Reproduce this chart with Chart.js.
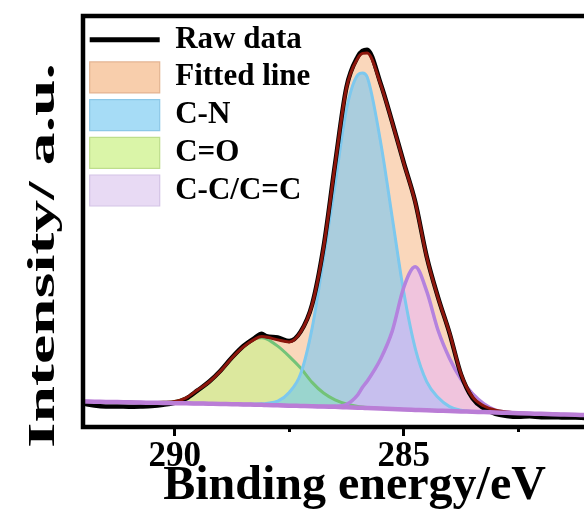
<!DOCTYPE html>
<html><head><meta charset="utf-8">
<script src="https://cdn.jsdelivr.net/npm/chart.js@4.4.1/dist/chart.umd.min.js"></script>
<style>html,body{margin:0;padding:0;background:#fff;overflow:hidden;width:584px;height:521px}canvas{display:block}</style>
</head><body>
<canvas id="c" width="626" height="521"></canvas>
<script>
// ---- data ----
const bindingEnergy = [292.00,291.75,291.50,291.25,291.00,290.75,290.50,290.25,290.00,289.75,289.50,289.25,289.00,288.75,288.50,288.25,288.10,288.00,287.75,287.50,287.25,287.00,286.75,286.50,286.25,286.00,285.90,285.80,285.50,285.25,285.00,284.75,284.50,284.25,284.00,283.75,283.50,283.25,283.00,282.75,282.50,282.25,282.00,281.75,281.50,281.25,281.00,280.50,280.00];
const rawData = [5.7,5.2,5.0,5.0,4.95,5.0,5.1,5.4,5.9,6.9,8.9,11.0,13.7,16.9,19.7,21.7,22.7,22.1,21.8,20.9,23.2,29.8,43.8,63.9,82.7,90.2,91.5,91.8,83.4,74.1,64.3,54.8,41.5,31.5,22.8,12.8,7.0,4.5,3.2,2.7,2.5,2.6,2.4,2.4,2.3,2.3,2.2,2.2,2.1];
const fittedLine = [6.2,6.16,6.1,6.06,6.0,5.96,5.95,6.01,6.2,7.1,9.0,10.95,13.6,16.8,19.5,21.4,22.0,21.9,21.2,20.7,23.1,29.7,43.6,63.7,82.5,89.8,90.9,91.0,83.2,74.0,64.2,54.7,41.4,31.4,22.9,12.9,7.3,5.1,4.1,3.65,3.4,3.28,3.21,3.11,3.04,2.97,2.9,2.75,2.6];
const cnPeak = [6.2,6.16,6.1,6.06,6.0,5.96,5.9,5.86,5.8,5.77,5.72,5.67,5.62,5.55,5.53,5.58,5.64,5.75,6.28,8.4,12.93,24.06,40.96,58.9,77.3,85.7,86.16,85.21,68.98,50.88,32.76,19.16,11.06,7.17,4.97,4.1,3.75,3.63,3.53,3.45,3.36,3.28,3.21,3.11,3.04,2.97,2.9,2.75,2.6];
const coPeak = [6.2,6.16,6.1,6.06,6.0,5.96,5.95,6.01,6.2,7.07,8.72,10.87,13.62,16.75,19.6,21.43,21.69,21.45,19.68,17.2,14.33,10.86,8.26,6.6,5.6,5.0,4.86,4.76,4.53,4.38,4.26,4.16,4.06,3.97,3.87,3.8,3.7,3.63,3.53,3.45,3.36,3.28,3.21,3.11,3.04,2.97,2.9,2.75,2.6];
const ccPeak = [6.2,6.16,6.1,6.06,6.0,5.96,5.9,5.86,5.8,5.77,5.72,5.67,5.62,5.55,5.5,5.43,5.39,5.35,5.28,5.2,5.13,5.06,5.01,5.05,5.5,7.9,9.66,11.11,16.68,23.38,33.96,38.96,33.06,23.47,16.67,11.6,8.1,5.63,4.13,3.6,3.36,3.28,3.21,3.11,3.04,2.97,2.9,2.75,2.6];
const background = [6.2,6.16,6.1,6.06,6.0,5.96,5.9,5.86,5.8,5.77,5.72,5.67,5.62,5.55,5.5,5.43,5.39,5.35,5.28,5.2,5.13,5.06,4.96,4.9,4.8,4.7,4.66,4.61,4.48,4.38,4.26,4.16,4.06,3.97,3.87,3.8,3.7,3.63,3.53,3.45,3.36,3.28,3.21,3.11,3.04,2.97,2.9,2.75,2.6];
const tickValues = [290, 287.5, 285, 282.5];
const tickLabels = ['290', '', '285', ''];
const xTitleText = 'Binding energy/eV';
const yTitleText = 'Intensity/ a.u.';

// ---- styling ----
const SERIF = '"Liberation Serif","Times New Roman",serif';
const pts = arr => bindingEnergy.map((x, i) => ({x: x, y: arr[i]}));
const legendOrder = [2, 6, 4, 5, 3];
const legendStyle = {
  2: {fill: '#000', stroke: '#000', lw: 5, ps: 'line'},
  6: {fill: 'rgb(248,206,172)', stroke: 'rgb(228,180,146)', lw: 1.2, ps: 'rect'},
  4: {fill: 'rgb(166,220,246)', stroke: 'rgb(140,200,232)', lw: 1.2, ps: 'rect'},
  5: {fill: 'rgb(218,245,168)', stroke: 'rgb(190,222,140)', lw: 1.2, ps: 'rect'},
  3: {fill: 'rgb(232,218,244)', stroke: 'rgb(212,196,230)', lw: 1.2, ps: 'rect'}
};

const framePlugin = {
  id: 'frame',
  afterDatasetsDraw(chart) {
    const {ctx, chartArea: a} = chart;
    ctx.save();
    ctx.strokeStyle = '#000';
    ctx.lineWidth = 4.5;
    ctx.lineCap = 'butt';
    ctx.beginPath();
    ctx.moveTo(a.left, a.bottom + 2.25); ctx.lineTo(a.left, a.top - 2.25);
    ctx.moveTo(a.left - 2.25, a.top); ctx.lineTo(a.right + 5, a.top);
    ctx.moveTo(a.left - 2.25, a.bottom); ctx.lineTo(a.right + 5, a.bottom);
    ctx.stroke();
    ctx.restore();
  }
};

const yTitlePlugin = {
  id: 'ytitle',
  afterDraw(chart) {
    const ctx = chart.ctx;
    ctx.save();
    ctx.font = 'bold 38px ' + SERIF;
    const w = ctx.measureText(yTitleText).width;
    ctx.translate(54, 255.5);
    ctx.rotate(-Math.PI / 2);
    ctx.scale(385 / w, 1);
    ctx.fillStyle = '#000';
    ctx.textAlign = 'center';
    ctx.textBaseline = 'alphabetic';
    ctx.fillText(yTitleText, 0, 0);
    ctx.restore();
  }
};

new Chart(document.getElementById('c'), {
  type: 'line',
  data: {
    datasets: [
      {label: 'Background', data: pts(background), borderColor: 'rgb(186,125,214)', borderWidth: 4.5, fill: false},
      {label: 'Fitted curve', data: pts(fittedLine), borderColor: 'rgb(140,22,12)', borderWidth: 3, fill: false},
      {label: 'Raw data', data: pts(rawData), borderColor: '#000', borderWidth: 4.5, fill: false},
      {label: 'C-C/C=C', data: pts(ccPeak), borderColor: 'rgb(180,130,222)', borderWidth: 3.5, backgroundColor: 'rgba(230,178,255,0.5)', fill: 0},
      {label: 'C-N', data: pts(cnPeak), borderColor: 'rgb(125,200,238)', borderWidth: 3, backgroundColor: 'rgba(90,195,255,0.5)', fill: 0},
      {label: 'C=O', data: pts(coPeak), borderColor: 'rgb(115,195,120)', borderWidth: 3, backgroundColor: 'rgba(185,252,125,0.45)', fill: 0},
      {label: 'Fitted line', data: pts(fittedLine), borderColor: 'rgba(0,0,0,0)', borderWidth: 0, backgroundColor: 'rgba(245,178,125,0.52)', fill: 0}
    ]
  },
  options: {
    responsive: false,
    animation: false,
    devicePixelRatio: 1,
    layout: {padding: {top: 16, left: 0, right: 0, bottom: 0}},
    elements: {
      point: {radius: 0, hoverRadius: 0},
      line: {cubicInterpolationMode: 'monotone', borderJoinStyle: 'round', borderCapStyle: 'butt'}
    },
    plugins: {
      filler: {drawTime: 'beforeDatasetsDraw'},
      tooltip: {enabled: false},
      legend: {
        position: 'chartArea',
        align: 'start',
        title: {display: true, text: ' ', font: {size: 10, lineHeight: 1}, padding: 3.75},
        labels: {
          usePointStyle: true,
          pointStyleWidth: 70,
          boxHeight: 33,
          padding: 6.7,
          color: '#000',
          font: {family: SERIF, size: 31, weight: 'bold'},
          generateLabels: (chart) => legendOrder.map(i => ({
            text: chart.data.datasets[i].label,
            datasetIndex: i,
            hidden: false,
            fontColor: '#000',
            pointStyle: legendStyle[i].ps,
            fillStyle: legendStyle[i].fill,
            strokeStyle: legendStyle[i].stroke,
            lineWidth: legendStyle[i].lw,
            lineCap: 'butt',
            lineDash: [],
            lineDashOffset: 0,
            lineJoin: 'miter',
            rotation: 0
          }))
        }
      }
    },
    scales: {
      x: {
        type: 'linear',
        reverse: true,
        min: 280.15,
        max: 292,
        afterBuildTicks: s => { s.ticks = tickValues.map(v => ({value: v})); },
        afterFit: s => { s.height = 94; },
        grid: {
          display: true,
          drawOnChartArea: false,
          drawTicks: true,
          tickLength: 9,
          tickWidth: 3,
          tickColor: '#000',
          tickBorderDash: c => (c.tick && tickLabels[tickValues.indexOf(c.tick.value)] === '') ? [5, 30] : []
        },
        border: {display: false},
        ticks: {
          color: '#000',
          padding: 0,
          autoSkip: false,
          maxRotation: 0,
          font: {family: SERIF, size: 35, weight: 'bold', lineHeight: 1.2},
          callback: v => { const k = tickValues.indexOf(v); return k >= 0 ? tickLabels[k] : ''; }
        },
        title: {
          display: true,
          text: xTitleText,
          color: '#000',
          font: {family: SERIF, size: 48, weight: 'bold', lineHeight: 1},
          padding: {top: 0, bottom: 10}
        }
      },
      y: {
        min: 0,
        max: 100,
        display: true,
        afterFit: s => { s.width = 83; },
        ticks: {display: false},
        grid: {display: false},
        border: {display: false}
      }
    }
  },
  plugins: [framePlugin, yTitlePlugin]
});
</script>
</body></html>
